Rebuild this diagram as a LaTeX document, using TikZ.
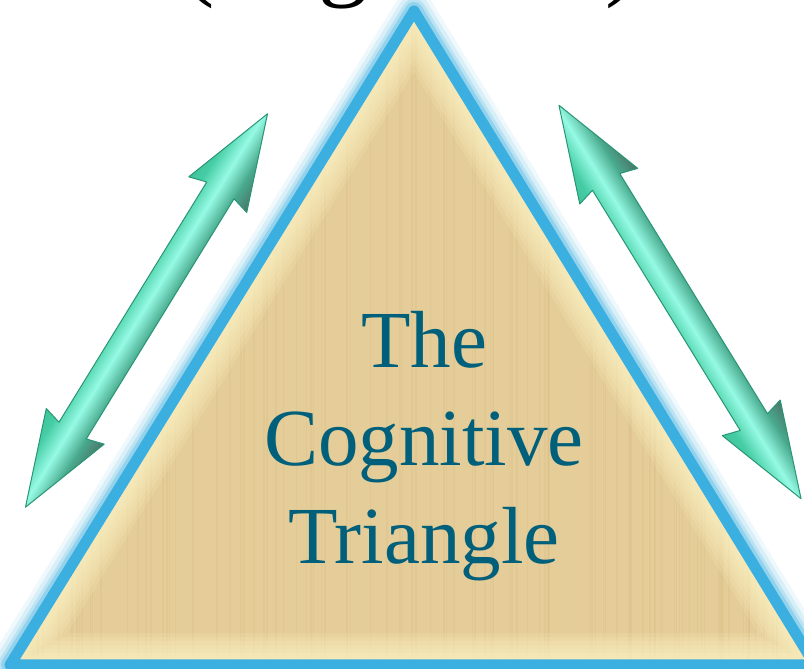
\documentclass[tikz,border=0pt]{standalone}
\usepackage{fontspec}
\setmainfont{Liberation Serif}
\usetikzlibrary{positioning}

\definecolor{rimblue}{RGB}{60,175,225}
\definecolor{paper}{RGB}{228,205,152}
\definecolor{paperlight}{RGB}{255,247,200}
\definecolor{inkteal}{RGB}{0,95,122}
\definecolor{arrdark}{RGB}{75,115,105}
\definecolor{arrgreen}{RGB}{70,205,165}
\definecolor{arrlight}{RGB}{150,250,228}
\definecolor{arredge}{RGB}{40,150,115}
\colorlet{arrmid}{arrgreen!60!arrdark}
\colorlet{arrrim}{arrgreen!80!arredge}
\pgfdeclareverticalshading{tube}{100bp}{color(0bp)=(arrdark); color(25bp)=(arrdark); color(38bp)=(arrmid); color(52bp)=(arrlight); color(66bp)=(arrgreen); color(75bp)=(arrrim); color(100bp)=(arrrim)}

\begin{document}
\begin{tikzpicture}[
    x=1pt, y=1pt,
    rim/.style={rimblue, line join=round},
    title/.style={align=center, inner sep=0pt, text=inkteal, font=\fontsize{81}{98}\selectfont},
    cutglyph/.style={anchor=base, inner sep=0pt, font=\fontsize{100}{100}\selectfont},
    dblarrow/.style={shade, shading=tube, draw=arredge, line width=1pt, line join=round}
]
    \useasboundingbox (0,0) rectangle (804,669);
    \clip (0,0) rectangle (804,669);
    \fill[white] (0,0) rectangle (804,669);

    \coordinate (apex) at (414,658);
    \coordinate (lcorner) at (10,4);
    \coordinate (rcorner) at (815,4);

    % halo round the triangle
    \foreach \w/\o in {40/0.08, 32/0.12, 24/0.2, 18/0.3}{
        \draw[rim, line width=\w pt, opacity=\o] (apex) -- (lcorner) -- (rcorner) -- cycle;
    }

    % parchment
    \begin{scope}
        \clip (apex) -- (lcorner) -- (rcorner) -- cycle;
        \fill[paper] (0,0) rectangle (815,669);
        \pgfmathsetseed{12}
        \foreach \i in {1,...,110}{
            \pgfmathsetmacro\xx{rnd*800}
            \draw[brown!60!paper, opacity=0.12, line width=1.5pt] (\xx,0) -- (\xx,660);
        }
        \foreach \w in {64,56,...,16}{
            \draw[paperlight, line width=\w pt, opacity=0.16, line join=round] (apex) -- (lcorner) -- (rcorner) -- cycle;
        }
    \end{scope}
    \draw[rim, line width=11pt] (apex) -- (lcorner) -- (rcorner) -- cycle;

    \node[title] (title) at (424,223) {The\\Cognitive\\Triangle};

    % cut-off heading at the top edge
    \node[cutglyph] (lpar) at (198,681) {(};
    \node[cutglyph] (gl) at (343,681) {g};
    \node[cutglyph] (rpar) at (622,681) {)};

    % the two double arrows
    \foreach \cx/\cy/\ang in {146.5/358.5/58.4, 680/367/121.6}{
        \path[dblarrow, transform canvas={shift={(\cx pt,\cy pt)}, rotate=\ang}]
            (-231,0) -- (-136,34) -- (-141,16) -- (141,16) -- (136,34) -- (231,0)
            -- (136,-34) -- (141,-16) -- (-141,-16) -- (-136,-34) -- cycle;
    }
\end{tikzpicture}
\end{document}
